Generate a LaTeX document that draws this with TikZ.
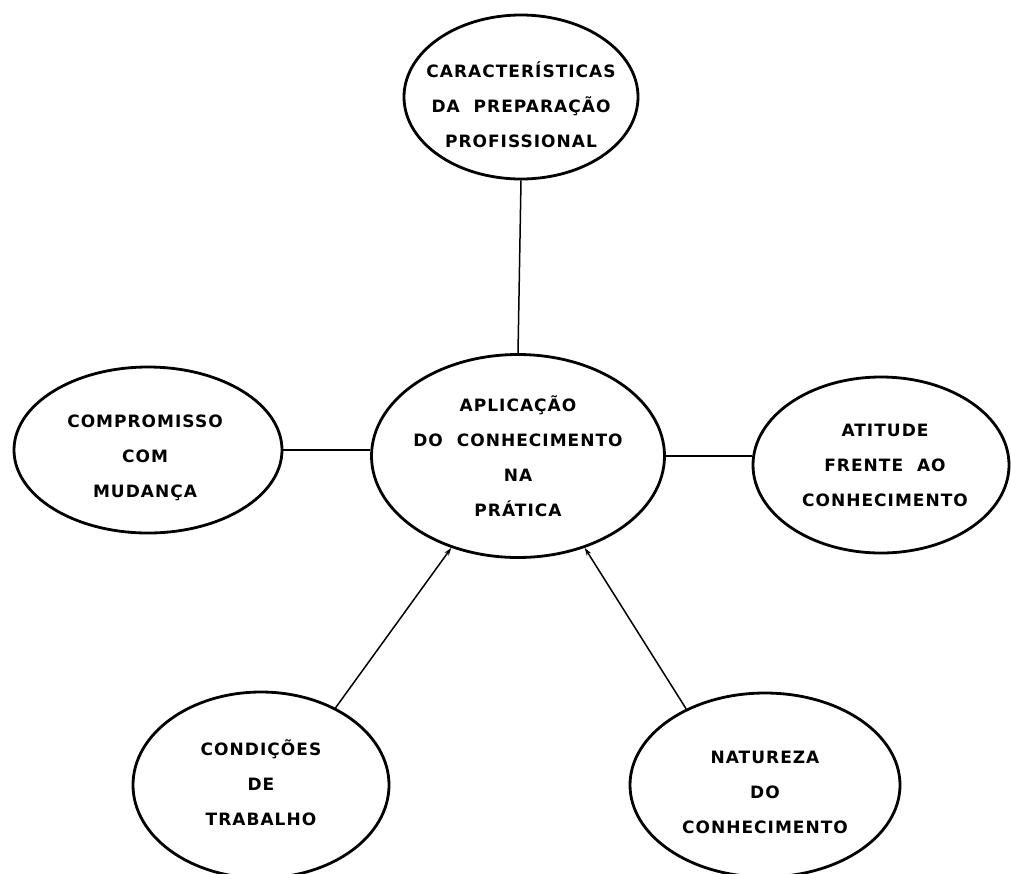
\documentclass[tikz,border=0pt]{standalone}
\usepackage{fontspec}
\newfontfamily\lblfont{DejaVu Sans Bold}[LetterSpace=6]
\usetikzlibrary{shapes.geometric,arrows.meta}
\begin{document}
\begin{tikzpicture}[x=1pt,y=-1pt,
  bub/.style={draw,ellipse,line width=2.8pt,inner sep=0pt},
  txt/.style={align=center,inner sep=0pt,font=\lblfont\fontsize{17}{35}\selectfont},
  link/.style={line width=1.5pt},
  tolink/.style={line width=1.5pt,-{Stealth[length=8pt,width=5pt]}}]
\useasboundingbox (0,0) rectangle (1011,873);
\node[bub,minimum width=234pt,minimum height=164pt,
  label={[txt,yshift=-8pt]center:CARACTERÍSTICAS\\DA\ \ PREPARAÇÃO\\PROFISSIONAL}] (t) at (521,97) {};
\node[bub,minimum width=293pt,minimum height=203pt,
  label={[txt]center:APLICAÇÃO\\DO\ \ CONHECIMENTO\\NA\\PRÁTICA}] (c) at (518,456) {};
\node[bub,minimum width=268pt,minimum height=166pt,
  label={[txt,yshift=-8pt,xshift=-3pt]center:COMPROMISSO\\COM\\MUDANÇA}] (l) at (148,450) {};
\node[bub,minimum width=256pt,minimum height=176pt,
  label={[txt,xshift=4pt]center:ATITUDE\\FRENTE\ \ AO\\CONHECIMENTO}] (r) at (881,465) {};
\node[bub,minimum width=256pt,minimum height=186pt,
  label={[txt,yshift=2pt]center:CONDIÇÕES\\DE\\TRABALHO}] (bl) at (261,785) {};
\node[bub,minimum width=270pt,minimum height=184pt,
  label={[txt,yshift=-7pt]center:NATUREZA\\DO\\CONHECIMENTO}] (br) at (765,785) {};
\draw[link] (t.south) -- (c.north);
\draw[link] (l.east) -- (l.east -| c.west);
\draw[link] (c.east) -- (c.east -| r.west);
\draw[tolink] (bl.46) -- (c.234);
\draw[tolink] (br.136) -- (c.306);
\end{tikzpicture}
\end{document}
